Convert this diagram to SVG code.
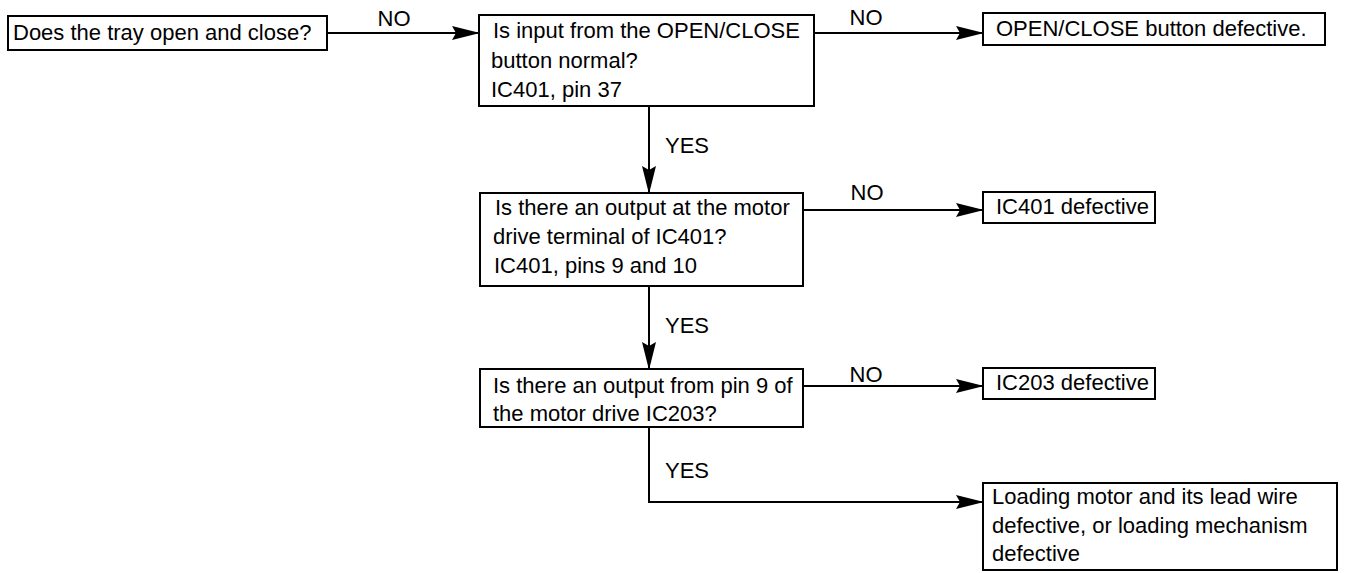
<svg xmlns="http://www.w3.org/2000/svg" width="1345" height="573" viewBox="0 0 1345 573">
  <defs>
    <style>
      .box { fill: #fff; stroke: #000; stroke-width: 2; }
      .t { font-family: "Liberation Sans", Arial, Helvetica, sans-serif; font-size: 22px; fill: #000; }
      .lbl { font-family: "Liberation Sans", Arial, Helvetica, sans-serif; font-size: 22px; fill: #000; }
      .c { fill: none; stroke: #000; stroke-width: 2; marker-end: url(#ah); }
    </style>
    <marker id="ah" markerUnits="userSpaceOnUse" markerWidth="30" markerHeight="16" refX="28" refY="8" orient="auto">
      <path d="M0,1 L28,8 L0,15 L4,8 z" fill="#000"/>
    </marker>
  </defs>
  <rect width="1345" height="573" fill="#fff"/>

  <g id="connectors">
    <path class="c" d="M327,33 H480"/>
    <text class="lbl" x="394" y="26" text-anchor="middle">NO</text>
    <path class="c" d="M814,33 H984"/>
    <text class="lbl" x="866" y="25" text-anchor="middle">NO</text>
    <path class="c" d="M649,106 V194"/>
    <text class="lbl" x="665" y="153">YES</text>
    <path class="c" d="M803,210 H984"/>
    <text class="lbl" x="867" y="200" text-anchor="middle">NO</text>
    <path class="c" d="M649,286 V370"/>
    <text class="lbl" x="665" y="333">YES</text>
    <path class="c" d="M803,386 H984"/>
    <text class="lbl" x="866" y="382" text-anchor="middle">NO</text>
    <path class="c" d="M649,427 V502 H984"/>
    <text class="lbl" x="665" y="478">YES</text>
  </g>

  <g id="n1">
    <rect class="box" x="8" y="16" width="319" height="34"/>
    <text class="t" x="13" y="40">Does the tray open and close?</text>
  </g>

  <g id="n2">
    <rect class="box" x="479" y="15" width="335" height="91"/>
    <text class="t" x="493" y="38">Is input from the OPEN/CLOSE</text>
    <text class="t" x="491" y="68">button normal?</text>
    <text class="t" x="491" y="97">IC401, pin 37</text>
  </g>

  <g id="n3">
    <rect class="box" x="983" y="13" width="342" height="32"/>
    <text class="t" x="996" y="36">OPEN/CLOSE button defective.</text>
  </g>

  <g id="n4">
    <rect class="box" x="480" y="193" width="323" height="93"/>
    <text class="t" x="495" y="215">Is there an output at the motor</text>
    <text class="t" x="493" y="244">drive terminal of IC401?</text>
    <text class="t" x="494" y="273">IC401, pins 9 and 10</text>
  </g>

  <g id="n5">
    <rect class="box" x="983" y="192" width="172" height="31"/>
    <text class="t" x="996" y="214">IC401 defective</text>
  </g>

  <g id="n6">
    <rect class="box" x="480" y="369" width="323" height="58"/>
    <text class="t" x="493" y="393">Is there an output from pin 9 of</text>
    <text class="t" x="493" y="421">the motor drive IC203?</text>
  </g>

  <g id="n7">
    <rect class="box" x="983" y="368" width="172" height="31"/>
    <text class="t" x="996" y="390">IC203 defective</text>
  </g>

  <g id="n8">
    <rect class="box" x="983" y="483" width="354" height="87"/>
    <text class="t" x="992" y="504">Loading motor and its lead wire</text>
    <text class="t" x="992" y="533">defective,  or loading mechanism</text>
    <text class="t" x="992" y="561">defective</text>
  </g>
</svg>
